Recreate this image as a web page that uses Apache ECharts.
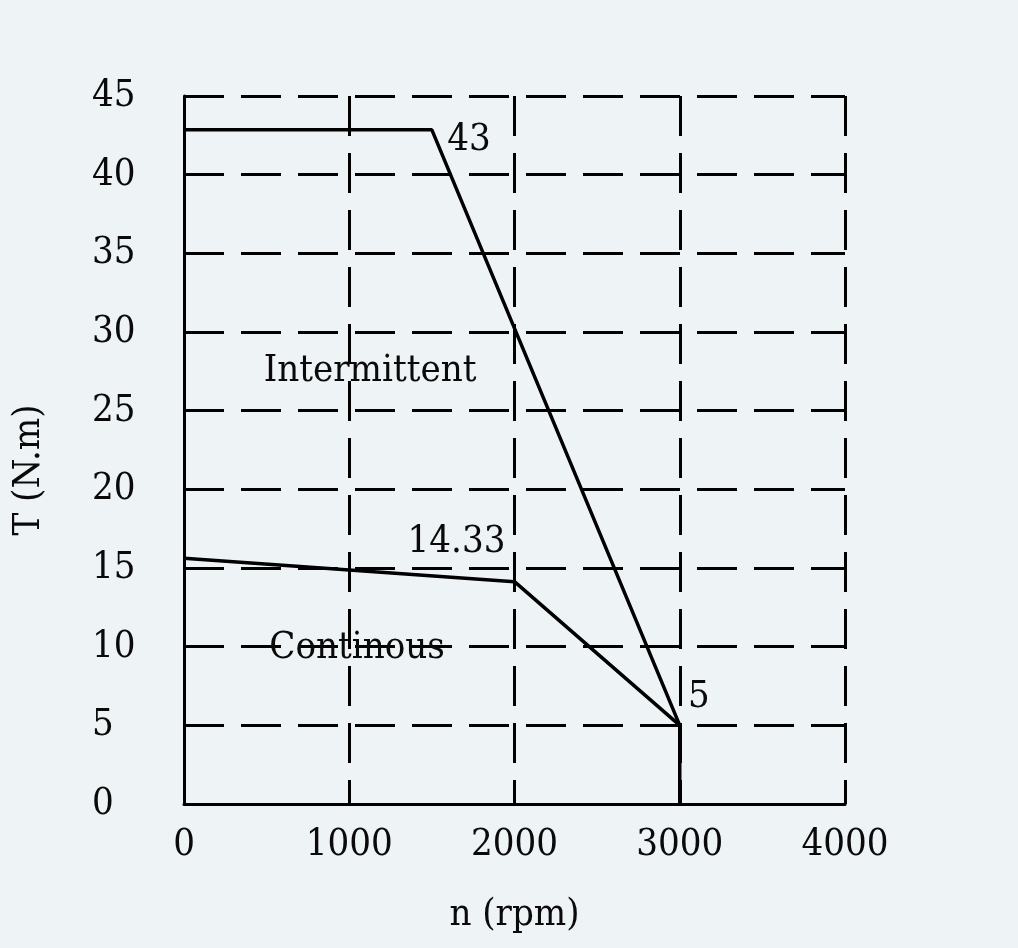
<!DOCTYPE html>
<html>
<head>
<meta charset="utf-8">
<script src="https://cdn.jsdelivr.net/npm/echarts@6/dist/echarts.min.js"></script>
<style>
html,body{margin:0;padding:0;background:#eef3f6;}
#chart{width:1018px;height:948px;}
</style>
</head>
<body>
<div id="chart"></div>
<script>
// ---- data ----
const xTicks = [0, 1000, 2000, 3000, 4000];
const yTicks = [0, 5, 10, 15, 20, 25, 30, 35, 40, 45];
const intermittentX = [0, 1500, 3000, 3000];
const intermittentY = [42.85, 42.85, 5, 0];
const continuousX = [0, 2000, 3000];
const continuousY = [15.62, 14.13, 5];
const pointLabels = ['43', '14.33', '5'];
const pointLabelX = [1500, 2000, 3000];
const pointLabelY = [42.85, 14.13, 5];
const regionNames = ['Intermittent', 'Continous'];
const regionX = [1126, 1047];
const regionY = [27.5, 9.9];
const xName = 'n (rpm)';
const yName = 'T (N.m)';

// ---- chart ----
const FONT = "'DejaVu Serif Condensed', 'Liberation Serif', serif";
const FS = 38;
const TXT = '#0a0a0a';
const dash = [40, 17];
const pairs = (xs, ys) => xs.map((x, i) => [x, ys[i]]);
const pointOffsets = [[37, 10], [-58, -40], [19, -28]];

const chart = echarts.init(document.getElementById('chart'), null, {renderer: 'canvas'});
chart.setOption({
  backgroundColor: '#eef3f6',
  animation: false,
  grid: {left: 184, right: 173, top: 96, bottom: 144, containLabel: false, outerBoundsMode: 'none'},
  xAxis: {
    type: 'value', min: xTicks[0], max: xTicks[xTicks.length - 1], interval: 1000,
    name: xName, nameLocation: 'middle', nameGap: 92,
    nameTextStyle: {fontFamily: FONT, fontSize: FS, color: TXT},
    axisLine: {show: true, onZero: false, lineStyle: {color: '#000', width: 3}},
    axisTick: {show: false},
    axisLabel: {fontFamily: FONT, fontSize: FS, color: TXT, margin: 22, formatter: v => String(v)},
    splitLine: {show: true, lineStyle: {color: '#000', width: 3, type: dash}}
  },
  yAxis: {
    type: 'value', min: yTicks[0], max: yTicks[yTicks.length - 1], interval: 5,
    name: yName, nameLocation: 'middle', nameGap: 136, nameRotate: 90,
    nameTextStyle: {fontFamily: FONT, fontSize: FS, color: TXT, padding: [0, 0, 0, -40]},
    axisLine: {show: true, onZero: false, lineStyle: {color: '#000', width: 3}},
    axisTick: {show: false},
    axisLabel: {fontFamily: FONT, fontSize: FS, color: TXT, margin: 92, align: 'left', formatter: v => String(v)},
    splitLine: {show: true, lineStyle: {color: '#000', width: 3, type: dash}}
  },
  series: [
    {
      type: 'line', data: pairs(intermittentX, intermittentY), symbol: 'none',
      lineStyle: {color: '#000', width: 3.5}, z: 5
    },
    {
      type: 'line', data: pairs(continuousX, continuousY), symbol: 'none',
      lineStyle: {color: '#000', width: 3.5}, z: 5
    },
    {
      type: 'scatter', symbolSize: 0, z: 6, itemStyle: {opacity: 1},
      data: pointLabels.map((t, i) => ({
        value: [pointLabelX[i], pointLabelY[i]],
        label: {show: true, formatter: t, position: 'inside', offset: pointOffsets[i],
          fontFamily: FONT, fontSize: FS, color: TXT, opacity: 1}
      }))
    },
    {
      type: 'scatter', symbolSize: 0, z: 6, itemStyle: {opacity: 1},
      data: regionNames.map((t, i) => ({
        value: [regionX[i], regionY[i]],
        label: {show: true, formatter: t, position: 'inside',
          fontFamily: FONT, fontSize: FS, color: TXT, opacity: 1}
      }))
    }
  ]
});
</script>
</body>
</html>
